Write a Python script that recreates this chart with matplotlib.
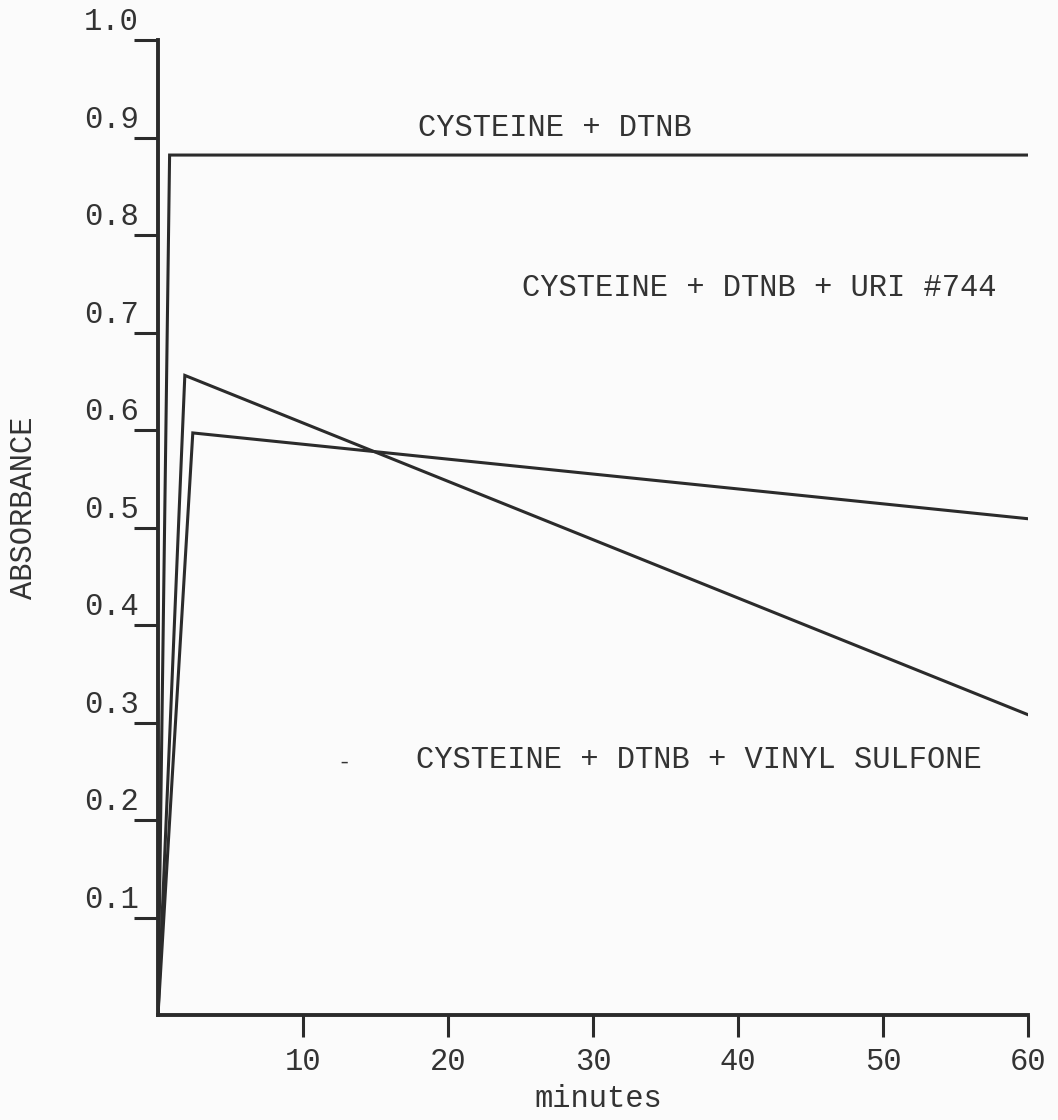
import matplotlib
matplotlib.use("Agg")
import matplotlib.pyplot as plt

# Zaman (dakika) ve absorbans verileri
dtnb_t = [0, 0.8, 60]
dtnb_abs = [0, 0.882, 0.882]

uri_t = [0, 2.4, 60]
uri_abs = [0, 0.597, 0.509]

vinyl_t = [0, 1.85, 60]
vinyl_abs = [0, 0.656, 0.308]

y_ticks = [0.1, 0.2, 0.3, 0.4, 0.5, 0.6, 0.7, 0.8, 0.9, 1.0]
y_tick_labels = ["0.1", "0.2", "0.3", "0.4", "0.5", "0.6", "0.7", "0.8", "0.9", "1.0"]
x_ticks = [10, 20, 30, 40, 50, 60]
x_tick_labels = ["10", "20", "30", "40", "50", "60"]

# Etiketler ve konumları (veri koordinatları)
etiketler = ["CYSTEINE + DTNB", "CYSTEINE + DTNB + URI #744", "CYSTEINE + DTNB + VINYL SULFONE"]
etiket_x = [27.4, 41.5, 37.3]
etiket_y = [0.91, 0.746, 0.262]

FONT = "Liberation Mono"
INK = "#2b2b2b"
TEXT_INK = "#333333"

fig = plt.figure(figsize=(10.58, 11.2), dpi=100, facecolor="#fbfbfb")
ax = fig.add_axes([158 / 1058, 105 / 1120, 870 / 1058, 975 / 1120])
ax.set_facecolor("#fbfbfb")

# Çizgiler
for t, a in [(dtnb_t, dtnb_abs), (uri_t, uri_abs), (vinyl_t, vinyl_abs)]:
    ax.plot(t, a, color=INK, linewidth=2.2, solid_joinstyle="miter")

ax.set_xlim(0, 60)
ax.set_ylim(0, 1.0)

# Eksen çizgileri
for s in ["top", "right"]:
    ax.spines[s].set_visible(False)
for s in ["left", "bottom"]:
    ax.spines[s].set_linewidth(2.8)
    ax.spines[s].set_color(INK)

# x ekseni işaretleri
ax.set_xticks(x_ticks)
ax.set_xticklabels(x_tick_labels, fontfamily=FONT, fontsize=22, color=TEXT_INK)
ax.tick_params(axis="x", direction="out", length=16, width=2.2, color=INK, pad=7)

# y ekseni işaretleri (etiketler çizginin biraz üstünde)
ax.set_yticks(y_ticks)
ax.set_yticklabels([])
ax.tick_params(axis="y", direction="out", length=17, width=2.2, color=INK)
for yv, lab in zip(y_ticks, y_tick_labels):
    ax.annotate(lab, xy=(0, yv), xycoords=("axes fraction", "data"),
                xytext=(-14, 2), textcoords="offset points",
                ha="right", va="bottom", fontfamily=FONT, fontsize=22, color=TEXT_INK)

# Eksen başlıkları
ax.set_xlabel("minutes", fontfamily=FONT, fontsize=22, color=TEXT_INK, va="center")
ax.xaxis.set_label_coords(0.506, -0.086)
ax.set_ylabel("ABSORBANCE", fontfamily=FONT, fontsize=22, color=TEXT_INK, va="center", ha="center")
ax.yaxis.set_label_coords(-0.154, 0.52)

# Eğri etiketleri
for lab, xv, yv in zip(etiketler, etiket_x, etiket_y):
    ax.text(xv, yv, lab, ha="center", va="center", fontfamily=FONT, fontsize=22, color=TEXT_INK)
ax.text(12.8, 0.258, "-", ha="center", va="center", fontfamily=FONT, fontsize=16, color=TEXT_INK)

fig.savefig("out.png", dpi=100, facecolor=fig.get_facecolor())
